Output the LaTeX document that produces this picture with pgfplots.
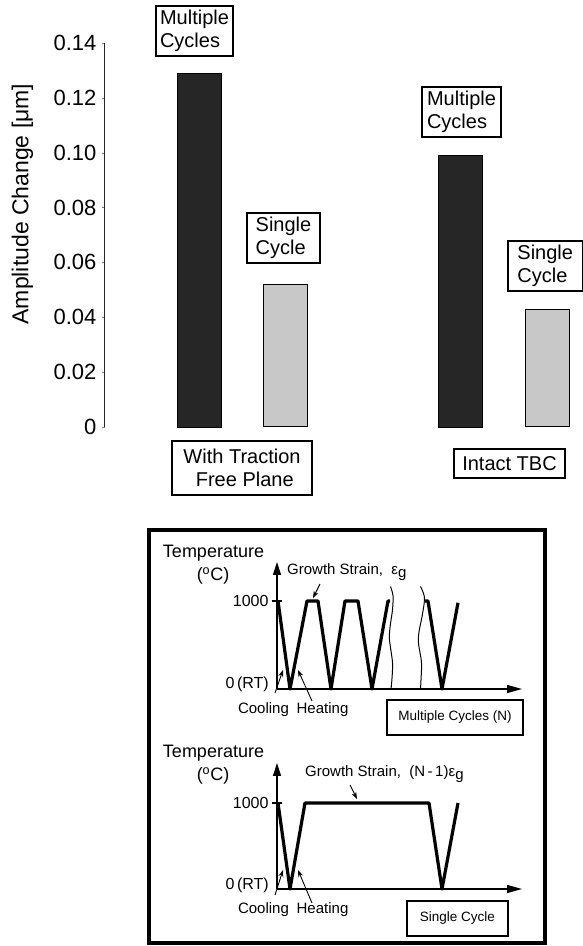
\documentclass[border=0pt]{standalone}
\usepackage{fontspec}
\setmainfont{Liberation Sans}
\usepackage{pgfplots}
\pgfplotsset{compat=1.18}
\usetikzlibrary{arrows.meta}
\definecolor{barDark}{RGB}{38,38,38}
\definecolor{barLight}{RGB}{200,200,200}

\pgfplotsset{
  cycle diagram/.style={
    scale only axis, width=245pt, clip=false,
    xmin=0, xmax=245, ymin=0,
    axis lines*=left,
    axis line style={line width=1.2pt, black},
    x axis line style={-{Triangle[length=15pt,width=8pt]}},
    y axis line style={-{Triangle[length=13pt,width=8pt]}},
    xtick=\empty, ytick={1000}, yticklabels={1000},
    tick align=center, major tick length=10pt,
    every tick/.style={black, line width=1.2pt},
    yticklabel style={font=\fontsize{16}{16}\selectfont},
  },
  temp line/.style={black, line width=3.2pt, line join=round, no marks},
  break line/.style={black, line width=1pt, smooth, no marks},
}
\begin{document}
\begin{tikzpicture}
\path[use as bounding box] (0,0) rectangle (583pt,946pt);

% bar chart
\begin{axis}[
  at={(105pt,519pt)}, anchor=south west,
  scale only axis, width=478pt, height=384pt,
  xmin=105, xmax=583, ymin=0, ymax=0.14,
  axis x line=none, axis y line*=left,
  axis line style={line width=1pt, black!85},
  ytick={0,0.02,0.04,0.06,0.08,0.10,0.12,0.14},
  yticklabels={0,0.02,0.04,0.06,0.08,0.10,0.12,0.14},
  tick align=outside, major tick length=3pt,
  yticklabel style={font=\fontsize{22}{22}\selectfont, xshift=-2pt},
  clip=false,
]
\addplot[ybar, bar width=44, bar shift=0pt, fill=barDark, draw=black] coordinates {(199,0.129) (460.5,0.099)};
\addplot[ybar, bar width=44, bar shift=0pt, fill=barLight, draw=black, line width=1pt] coordinates {(285,0.052) (547,0.043)};
\end{axis}

\node[rotate=90, font=\fontsize{23}{23}\selectfont] at (22.5pt,742pt) {Amplitude Change [μm]};

\tikzset{lbl/.style={draw, line width=1.2pt, inner sep=0pt, font=\fontsize{20}{23}\selectfont, minimum height=50pt}}
\node[lbl, align=left, minimum width=77pt] at (194.5pt,915pt) {Multiple\\Cycles};
\node[lbl, align=left, minimum width=73pt] at (283.5pt,708pt) {Single\\Cycle};
\node[lbl, align=center, minimum width=140pt, minimum height=54pt] at (242pt,478pt) {With Traction\\\ Free Plane};
\node[lbl, align=left, minimum width=79pt] at (461.5pt,834pt) {Multiple\\Cycles};
\node[lbl, align=left, minimum width=74.5pt] at (545.25pt,680pt) {Single\\Cycle};
\node[lbl, minimum width=111pt, minimum height=29pt] at (509.5pt,482.5pt) {Intact TBC};

% frame
\draw[line width=4pt] (148.5pt,415.5pt) rectangle (545pt,2.5pt);

% multiple cycles diagram
\begin{axis}[cycle diagram, at={(277pt,257pt)}, anchor=south west, height=127pt, ymax=1443]
\addplot[temp line] coordinates {(1,1000) (13,0) (30,1000) (41,1000) (54,0) (68,1000) (81,1000) (95,0) (111,1000) (113,1000)};
\addplot[temp line] coordinates {(148,1000) (151,1000) (165,0) (181,980)};
\addplot[break line] coordinates {(113.5,1165) (116,1060) (115.5,900) (113,700) (112.5,560) (115.5,300) (115,120) (114,0)};
\addplot[break line] coordinates {(143.5,1165) (147.5,1040) (145.5,850) (142,650) (141.5,520) (144.5,300) (144,100) (143.5,0)};
\end{axis}

\tikzset{dtxt/.style={inner sep=0pt, font=\fontsize{15}{15}\selectfont},
         dttl/.style={inner sep=0pt, font=\fontsize{18}{18}\selectfont},
         thinarrow/.style={line width=0.9pt, -{Stealth[length=7pt,width=5pt]}}}
\node[dttl] at (213.5pt,393pt) {Temperature};
\node[dttl] at (213pt,370pt) {(\textsuperscript{o}C)};
\node[dtxt, anchor=west] at (287pt,374pt) {Growth Strain,\ \ ε\raisebox{-0.3ex}{g}};
\draw[thinarrow] (320pt,362pt) -- (313pt,348pt);
\node[inner sep=0pt, anchor=east, font=\fontsize{16}{16}\selectfont] at (269pt,262pt) {0\,(RT)};
\node[dtxt] at (263.5pt,236pt) {Cooling};
\node[dtxt] at (322.5pt,236pt) {Heating};
\draw[thinarrow] (275pt,253pt) -- (283pt,276pt);
\draw[thinarrow] (312pt,245pt) -- (298pt,276pt);
\node[draw, line width=1.2pt, minimum width=136pt, minimum height=35pt, inner sep=0pt, font=\fontsize{13.5}{13.5}\selectfont] at (455pt,228.5pt) {Multiple Cycles (N)};

% single cycle diagram
\begin{axis}[cycle diagram, at={(277pt,57pt)}, anchor=south west, height=126pt, ymax=1465]
\addplot[temp line] coordinates {(1,1000) (13,0) (28,1000) (152,1000) (165,0) (181,1000)};
\end{axis}

\node[dttl] at (213.5pt,193pt) {Temperature};
\node[dttl] at (213pt,170pt) {(\textsuperscript{o}C)};
\node[dtxt, anchor=west] at (305pt,172pt) {Growth Strain,\ \ (N\,-\,1)ε\raisebox{-0.3ex}{g}};
\draw[thinarrow] (350pt,161pt) -- (357pt,147pt);
\node[inner sep=0pt, anchor=east, font=\fontsize{16}{16}\selectfont] at (269pt,61pt) {0\,(RT)};
\node[dtxt] at (263.5pt,36pt) {Cooling};
\node[dtxt] at (322.5pt,36pt) {Heating};
\draw[thinarrow] (275pt,51pt) -- (283pt,76pt);
\draw[thinarrow] (312pt,43pt) -- (298pt,76pt);
\node[draw, line width=1.2pt, minimum width=101pt, minimum height=35pt, inner sep=0pt, font=\fontsize{13.5}{13.5}\selectfont] at (457.5pt,27.5pt) {Single Cycle};
\end{tikzpicture}
\end{document}
